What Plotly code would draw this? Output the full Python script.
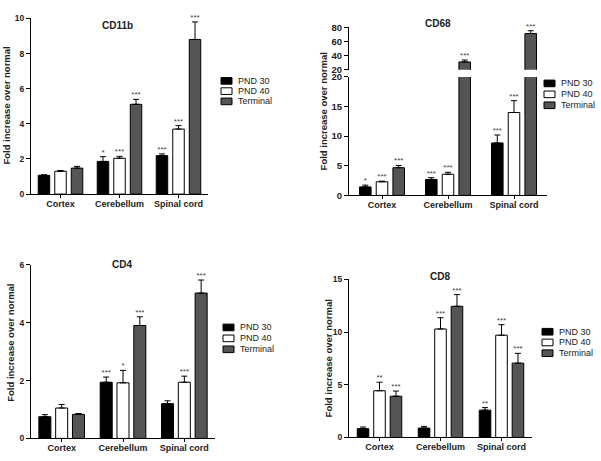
import plotly.graph_objects as go

# ---------------- data ----------------
regions = ["Cortex", "Cerebellum", "Spinal cord"]
series = ["PND 30", "PND 40", "Terminal"]

cd11b_pnd30 = [1.07, 1.86, 2.19]
cd11b_pnd40 = [1.30, 2.04, 3.70]
cd11b_term = [1.48, 5.11, 8.80]
cd11b_pnd30_err = [0.03, 0.27, 0.10]
cd11b_pnd40_err = [0.04, 0.11, 0.20]
cd11b_term_err = [0.10, 0.28, 1.00]
cd11b_pnd30_sig = ["", "*", "***"]
cd11b_pnd40_sig = ["", "***", "***"]
cd11b_term_sig = ["", "***", "***"]

cd68_pnd30 = [1.43, 2.69, 8.85]
cd68_pnd40 = [2.30, 3.57, 14.0]
cd68_term = [4.67, 31.0, 71.0]
cd68_pnd30_err = [0.30, 0.30, 1.35]
cd68_pnd40_err = [0.10, 0.33, 2.00]
cd68_term_err = [0.38, 2.70, 4.00]
cd68_pnd30_sig = ["*", "***", "***"]
cd68_pnd40_sig = ["***", "***", "***"]
cd68_term_sig = ["***", "***", "***"]

cd4_pnd30 = [0.75, 1.94, 1.20]
cd4_pnd40 = [1.05, 1.92, 1.94]
cd4_term = [0.83, 3.90, 5.02]
cd4_pnd30_err = [0.07, 0.18, 0.10]
cd4_pnd40_err = [0.12, 0.43, 0.21]
cd4_term_err = [0.03, 0.30, 0.45]
cd4_pnd30_sig = ["", "***", ""]
cd4_pnd40_sig = ["", "*", "***"]
cd4_term_sig = ["", "***", "***"]

cd8_pnd30 = [0.83, 0.89, 2.59]
cd8_pnd40 = [4.43, 10.29, 9.70]
cd8_term = [3.91, 12.44, 7.05]
cd8_pnd30_err = [0.16, 0.16, 0.24]
cd8_pnd40_err = [0.81, 1.07, 1.00]
cd8_term_err = [0.49, 1.11, 0.93]
cd8_pnd30_sig = ["", "", "**"]
cd8_pnd40_sig = ["**", "***", "***"]
cd8_term_sig = ["***", "***", "***"]

# ---------------- style ----------------
W, H = 601, 461
FONT = "Liberation Sans, Arial, sans-serif"
TXT = "#222222"
fills = ["#000000", "#ffffff", "#555555"]


def PX(x):
    return x / W


def PY(y):
    return 1 - y / H


fig = go.Figure()

panels = [
    dict(name="CD11b", xa="x", ya=["y"],
         vals=[cd11b_pnd30, cd11b_pnd40, cd11b_term],
         errs=[cd11b_pnd30_err, cd11b_pnd40_err, cd11b_term_err],
         sigs=[cd11b_pnd30_sig, cd11b_pnd40_sig, cd11b_term_sig],
         bw=0.195, sp=0.28),
    dict(name="CD68", xa="x2", ya=["y2", "y3"],
         vals=[cd68_pnd30, cd68_pnd40, cd68_term],
         errs=[cd68_pnd30_err, cd68_pnd40_err, cd68_term_err],
         sigs=[cd68_pnd30_sig, cd68_pnd40_sig, cd68_term_sig],
         bw=0.175, sp=0.253),
    dict(name="CD4", xa="x3", ya=["y4"],
         vals=[cd4_pnd30, cd4_pnd40, cd4_term],
         errs=[cd4_pnd30_err, cd4_pnd40_err, cd4_term_err],
         sigs=[cd4_pnd30_sig, cd4_pnd40_sig, cd4_term_sig],
         bw=0.196, sp=0.274),
    dict(name="CD8", xa="x4", ya=["y5"],
         vals=[cd8_pnd30, cd8_pnd40, cd8_term],
         errs=[cd8_pnd30_err, cd8_pnd40_err, cd8_term_err],
         sigs=[cd8_pnd30_sig, cd8_pnd40_sig, cd8_term_sig],
         bw=0.19, sp=0.27),
]

BREAK = 20  # CD68 axis break value

for p in panels:
    for k in range(3):
        xs = [i + (k - 1) * p["sp"] for i in range(len(regions))]
        vals, errs, sigs = p["vals"][k], p["errs"][k], p["sigs"][k]
        for j, ya in enumerate(p["ya"]):
            fig.add_trace(go.Bar(
                x=xs, y=vals, width=p["bw"], xaxis=p["xa"], yaxis=ya,
                name=series[k], showlegend=False,
                marker=dict(color=fills[k], line=dict(color="#000000", width=1)),
                error_y=dict(type="data", symmetric=False, array=errs,
                             arrayminus=[0] * len(errs), color="#000000",
                             thickness=1, width=3),
                hoverinfo="skip",
            ))
            if len(p["ya"]) == 2:
                if j == 0:
                    txt = [s if v <= BREAK else "" for s, v in zip(sigs, vals)]
                else:
                    txt = [s if v > BREAK else "" for s, v in zip(sigs, vals)]
            else:
                txt = sigs
            fig.add_trace(go.Scatter(
                x=xs, y=[v + e for v, e in zip(vals, errs)], mode="text",
                text=txt, textposition="top center", xaxis=p["xa"], yaxis=ya,
                textfont=dict(family=FONT, size=8, color="#444444"),
                showlegend=False, hoverinfo="skip", cliponaxis=False,
            ))

# ---------------- axes ----------------
xcommon = dict(tickvals=[0, 1, 2], ticktext=regions, range=[-0.5, 2.5],
               showline=True, linecolor="#000000", linewidth=1,
               ticks="outside", ticklen=3, tickcolor="#000000",
               showgrid=False, zeroline=False, ticklabelstandoff=-2,
               tickfont=dict(family=FONT, size=9, color=TXT, weight="bold"))
ycommon = dict(showline=True, linecolor="#000000", linewidth=1,
               ticks="outside", ticklen=4, tickcolor="#000000",
               showgrid=False, zeroline=False,
               tickfont=dict(family=FONT, size=8.5, color=TXT, weight="bold"))
ycd68 = dict(ycommon, tickfont=dict(family=FONT, size=9.5, color=TXT, weight="bold"))

fig.update_layout(
    xaxis=dict(xcommon, domain=[PX(31), PX(208)], anchor="y"),
    yaxis=dict(ycommon, domain=[PY(192.7), PY(12.7)], anchor="x",
               range=[0, 10], tickvals=[0, 2, 4, 6, 8, 10]),
    xaxis2=dict(xcommon, domain=[PX(349), PX(547)], anchor="y2"),
    yaxis2=dict(ycd68, domain=[PY(194), PY(72.7)], anchor="x2",
                range=[0, 20], tickvals=[0, 5, 10, 15, 20]),
    yaxis3=dict(ycd68, domain=[PY(65.3), PY(21.7)], anchor="x2",
                range=[20, 80], tickvals=[20, 40, 60, 80]),
    xaxis3=dict(xcommon, domain=[PX(31), PX(215)], anchor="y4"),
    yaxis4=dict(ycommon, domain=[PY(443), PY(265)], anchor="x3",
                range=[0, 6], tickvals=[0, 2, 4, 6]),
    xaxis4=dict(xcommon, domain=[PX(349), PX(532)], anchor="y5"),
    yaxis5=dict(ycommon, domain=[PY(442), PY(280)], anchor="x4",
                range=[0, 15], tickvals=[0, 5, 10, 15]),
    barmode="overlay",
    width=W, height=H,
    margin=dict(l=0, r=0, t=0, b=0),
    paper_bgcolor="#ffffff", plot_bgcolor="#ffffff",
    font=dict(family=FONT, color=TXT),
    showlegend=False,
)

annotations = []
shapes = []

# titles
titles = [("CD11b", 117, 20), ("CD68", 438, 18), ("CD4", 122, 265), ("CD8", 440, 277)]
for t, x, y in titles:
    annotations.append(dict(text=t, x=PX(x), y=PY(y), xref="paper", yref="paper",
                            showarrow=False, xanchor="center", yanchor="middle",
                            font=dict(family=FONT, size=10, color=TXT, weight="bold")))

# y-axis titles
ytitles = [(7, 102), (323, 108), (11, 345), (328, 361)]
for x, y in ytitles:
    annotations.append(dict(text="Fold increase over normal", x=PX(x), y=PY(y),
                            xref="paper", yref="paper", showarrow=False,
                            textangle=-90, xanchor="center", yanchor="middle",
                            font=dict(family=FONT, size=9.5, color=TXT, weight="bold")))

# legends (one per panel)
legends = [(221, [76.7, 87.2, 97.7]), (544, [79.3, 90.5, 101.7]),
           (223, [329.3, 340.5, 351.7]), (542, [333.7, 344.7, 355.7])]
for lx, ys in legends:
    for k, y in enumerate(ys):
        shapes.append(dict(type="rect", xref="paper", yref="paper",
                           x0=PX(lx), x1=PX(lx + 11), y0=PY(y + 3.4), y1=PY(y - 3.4),
                           fillcolor=fills[k], line=dict(color="#000000", width=1)))
        annotations.append(dict(text=series[k], x=PX(lx + 15), y=PY(y),
                                xref="paper", yref="paper", showarrow=False,
                                xanchor="left", yanchor="middle",
                                font=dict(family=FONT, size=9, color=TXT)))

fig.update_layout(annotations=annotations, shapes=shapes)

fig.write_html("out.html", config={"displayModeBar": False},
               post_script="document.body.style.margin='0';document.body.style.overflow='hidden';")
